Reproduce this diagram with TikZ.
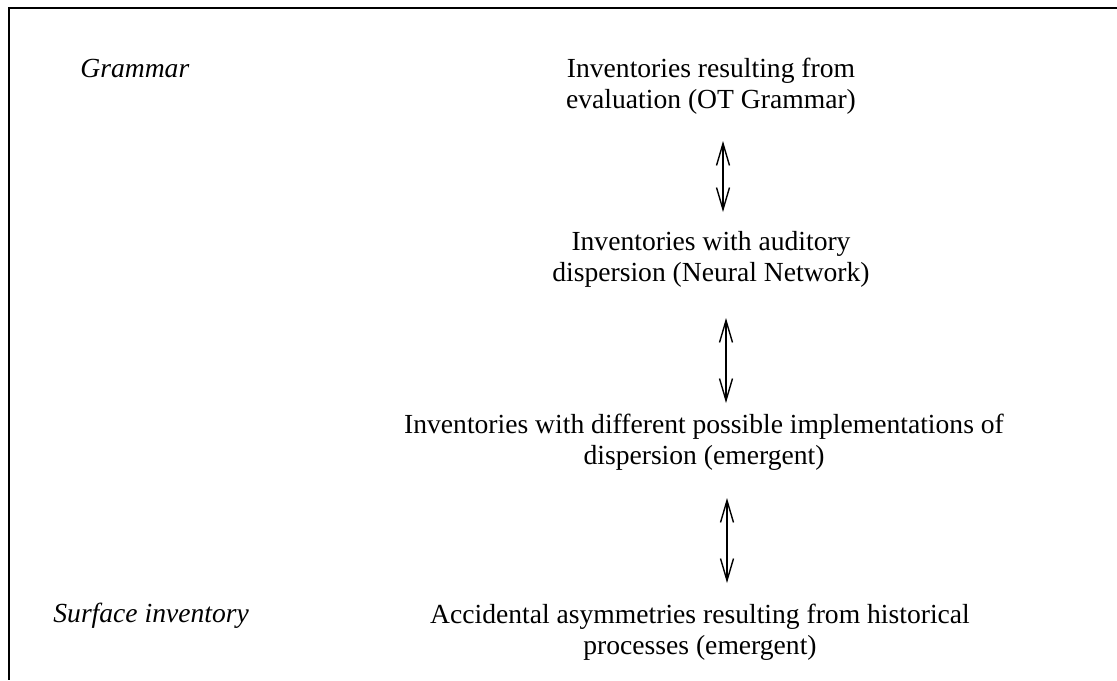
\documentclass[tikz,border=0pt]{standalone}
\usepackage{fontspec}
\setmainfont{Liberation Serif}
\usetikzlibrary{arrows.meta}
\begin{document}
\begin{tikzpicture}[x=0.5pt,y=-0.5pt,
  txt/.style={align=center,inner sep=0pt,font=\fontsize{13.8}{15.5}\selectfont},
  lbl/.style={inner sep=0pt,anchor=base west,font=\fontsize{13.8}{15.5}\selectfont\itshape},
  dbl/.style={{Straight Barb[length=11pt,width=6.5pt]}-{Straight Barb[length=11pt,width=6.5pt]},line width=0.7pt},
  frame/.style={line width=0.8pt}]
\useasboundingbox (0,0) rectangle (1117,680);
\coordinate (tl) at (9,8);
\coordinate (tr) at (1117,8);
\coordinate (bl) at (9,680);
\draw[frame] (tr) -- (tl) -- (bl);
\node[lbl] (gram) at (80,77) {Grammar};
\node[lbl] (surf) at (53,622) {Surface inventory};
\node[txt] (n1) at (711,86) {Inventories resulting from\\evaluation (OT Grammar)};
\node[txt] (n2) at (711,259) {Inventories with auditory\\dispersion (Neural Network)};
\node[txt] (n3) at (704,442) {Inventories with different possible implementations of\\dispersion (emergent)};
\node[txt] (n4) at (700,632) {Accidental asymmetries resulting from historical\\processes (emergent)};
\coordinate (a1t) at (723,141);
\coordinate (a1b) at (723,212);
\coordinate (a2t) at (726,318);
\coordinate (a2b) at (726,403);
\coordinate (a3t) at (727,498);
\coordinate (a3b) at (727,583);
\draw[dbl] (a1t) -- (a1b);
\draw[dbl] (a2t) -- (a2b);
\draw[dbl] (a3t) -- (a3b);
\end{tikzpicture}
\end{document}
